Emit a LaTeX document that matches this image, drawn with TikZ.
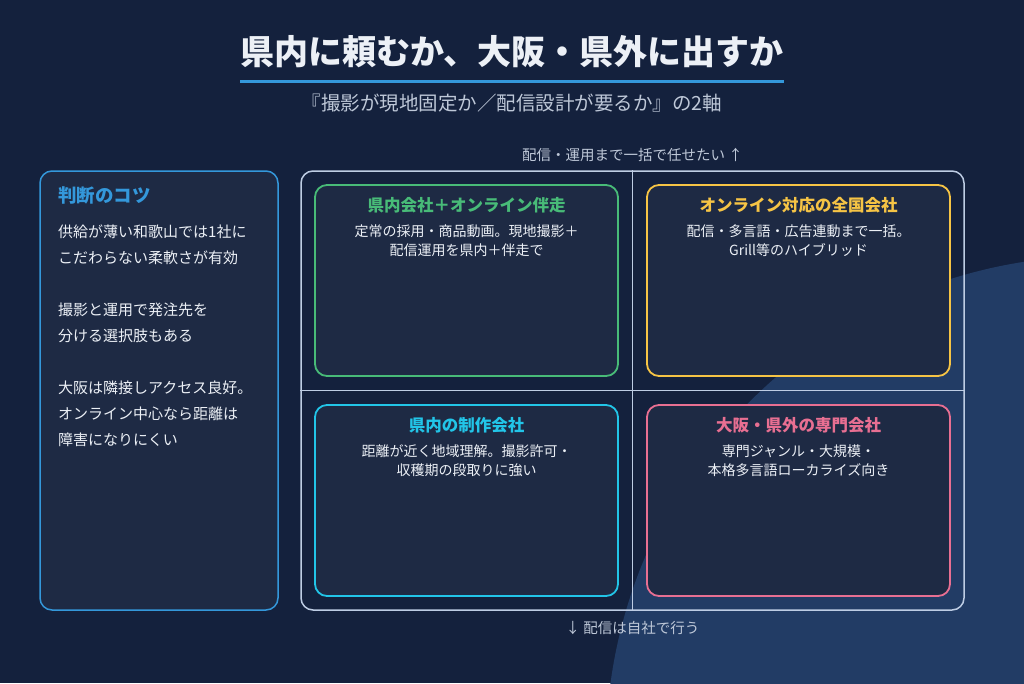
\documentclass[tikz,border=0pt]{standalone}
\usepackage{fontspec}
\setmainfont{Noto Sans CJK JP}
\usepackage{tikz}
\usetikzlibrary{positioning}

\begin{document}
\begin{tikzpicture}[x=1pt,y=-1pt,
  every node/.style={inner sep=0pt, text=txt},
  panel/.style={draw, fill=boxbg, rounded corners=12pt},
  quad/.style={panel, line width=1.8pt, minimum width=303pt, minimum height=191pt},
  qtitle/.style={font=\bfseries\fontsize{16.5}{20}\selectfont},
  qbody/.style={align=center, font=\fontsize{14}{19.5}\selectfont},
  axislbl/.style={text=muted, font=\fontsize{14.5}{17}\selectfont}]

  % Palette (dark navy card)
  \definecolor{bg}{RGB}{20,33,61}
  \definecolor{blob}{RGB}{34,60,101}
  \definecolor{boxbg}{RGB}{30,42,68}
  \definecolor{txt}{RGB}{236,240,246}
  \definecolor{muted}{RGB}{190,200,216}
  \definecolor{gridc}{RGB}{190,205,228}
  \definecolor{cBlue}{RGB}{52,152,219}
  \definecolor{cGreen}{RGB}{72,187,120}
  \definecolor{cGold}{RGB}{246,196,69}
  \definecolor{cCyan}{RGB}{34,197,232}
  \definecolor{cPink}{RGB}{232,111,146}

  % Canvas, 1024x683 px
  \useasboundingbox (0,0) rectangle (1024,683);
  \fill[bg] (0,0) rectangle (1024,683);
  \begin{scope}
    \clip (0,0) rectangle (1024,683);
    \fill[blob] (1100,750) circle (494);
  \end{scope}

  % ---- Heading ----
  \node[font=\bfseries\fontsize{34}{40}\selectfont] (title) at (512,52)
    {県内に頼むか、大阪・県外に出すか};
  \draw[cBlue, line width=3pt]
    ([yshift=-13pt]title.south west) -- ([yshift=-13pt]title.south east);
  \node[text=muted, font=\fontsize{19.5}{24}\selectfont] (subtitle) at (512,103)
    {『撮影が現地固定か／配信設計が要るか』の2軸};

  % ---- Left panel: tips ----
  \node[panel, draw=cBlue, line width=1.5pt, minimum width=238pt, minimum height=439pt]
    (tips) at (159,390.5) {};
  \node[anchor=west, text=cBlue, font=\bfseries\fontsize{18.5}{22}\selectfont]
    (tipshead) at (58,195) {判断のコツ};
  \node[anchor=north west, align=left, font=\fontsize{15}{26}\selectfont]
    (tipsbody) at (58,224.5)
    {供給が薄い和歌山では1社に\\こだわらない柔軟さが有効\\[26pt]
     撮影と運用で発注先を\\分ける選択肢もある\\[26pt]
     大阪は隣接しアクセス良好。\\オンライン中心なら距離は\\障害になりにくい};

  % ---- 2x2 matrix ----
  \node[draw=gridc, line width=1.5pt, rounded corners=12pt,
    minimum width=663pt, minimum height=439pt] (grid) at (632.5,390.5) {};
  \draw[gridc, line width=1.5pt] (grid.north) -- (grid.south);
  \draw[gridc, line width=1.5pt] (grid.west) -- (grid.east);

  \node[axislbl, above=8pt of grid.north] (axtop) {配信・運用まで一括で任せたい ↑};
  \node[axislbl, below=10pt of grid.south] (axbot) {↓ 配信は自社で行う};

  % Quadrants: name/center/colour/title/body
  \foreach \q/\cx/\cy/\col/\head/\body in {
      tl/466.5/280.5/cGreen/県内会社＋オンライン伴走/定常の採用・商品動画。現地撮影＋\\配信運用を県内＋伴走で,
      tr/798.5/280.5/cGold/オンライン対応の全国会社/配信・多言語・広告連動まで一括。\\Grill等のハイブリッド,
      bl/466.5/500.5/cCyan/県内の制作会社/距離が近く地域理解。撮影許可・\\収穫期の段取りに強い,
      br/798.5/500.5/cPink/大阪・県外の専門会社/専門ジャンル・大規模・\\本格多言語ローカライズ向き}
  {
    \node[quad, draw=\col] (\q) at (\cx,\cy) {};
    \node[qtitle, text=\col, below=13pt of \q.north] (\q-head) {\head};
    \node[qbody, below=11pt of \q-head] (\q-body) {\body};
  }

\end{tikzpicture}
\end{document}
